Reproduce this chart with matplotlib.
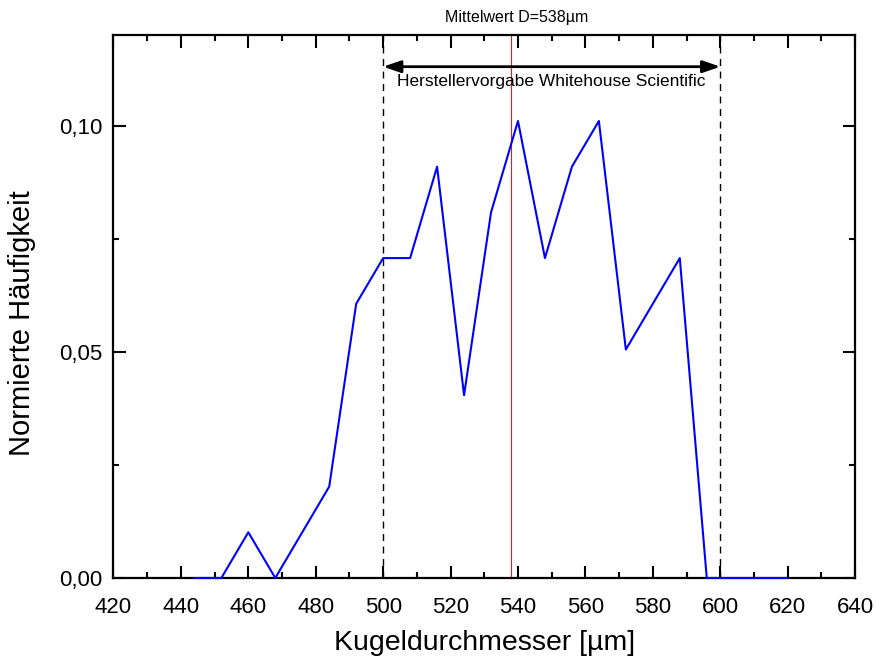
import matplotlib
matplotlib.use("Agg")
import matplotlib.pyplot as plt
from matplotlib.ticker import MultipleLocator, FuncFormatter

plt.rcParams['font.family'] = ['Liberation Sans', 'DejaVu Sans']

diameter = [444, 452, 460, 468, 484, 492, 500, 508, 516, 524, 532, 540, 548, 556, 564, 572, 588, 596, 604, 612, 620]
freq = [0.0, 0.0, 0.0101, 0.0, 0.0202, 0.0606, 0.0707, 0.0707, 0.0909, 0.0404, 0.0808, 0.101,
        0.0707, 0.0909, 0.101, 0.0505, 0.0707, 0.0, 0.0, 0.0, 0.0]
mean_d = 538
spec_lo, spec_hi = 500, 600

fig = plt.figure(figsize=(8.77, 6.62), dpi=100)
ax = fig.add_axes([0.1294, 0.1269, 0.975 - 0.1294, 0.9471 - 0.1269])

ax.plot(diameter, freq, color='#0000ff', lw=1.5, zorder=5, clip_on=False)
ax.axvline(spec_lo, color='black', ls=(0, (5, 4)), lw=1.0)
ax.axvline(spec_hi, color='black', ls=(0, (5, 4)), lw=1.0)
ax.axvline(mean_d, color='#dd2020', lw=0.8)

ax.annotate('', xy=(spec_lo, 0.113), xytext=(spec_hi, 0.113),
            arrowprops=dict(arrowstyle='<|-|>,head_length=0.75,head_width=0.26', color='black', lw=2,
                            mutation_scale=14, shrinkA=0, shrinkB=0))
ax.text((spec_lo + spec_hi) / 2, 0.1097, 'Herstellervorgabe Whitehouse Scientific',
        ha='center', va='center', fontsize=12.5)
ax.text(mean_d + 1.5, 1.032, 'Mittelwert D=538µm', transform=ax.get_xaxis_transform(),
        ha='center', va='center', fontsize=11.5)

ax.set_xlim(420, 640)
ax.set_ylim(0, 0.12)
ax.xaxis.set_major_locator(MultipleLocator(20))
ax.xaxis.set_minor_locator(MultipleLocator(10))
ax.yaxis.set_major_locator(MultipleLocator(0.05))
ax.yaxis.set_minor_locator(MultipleLocator(0.025))
ax.yaxis.set_major_formatter(FuncFormatter(lambda v, p: f"{v:.2f}".replace('.', ',')))

ax.tick_params(which='both', direction='in', top=True, right=True, width=1.5)
ax.tick_params(which='major', length=9, labelsize=16)
ax.tick_params(which='minor', length=4.5)
ax.tick_params(axis='x', which='major', pad=14)
ax.tick_params(axis='y', which='major', pad=8)
for s in ax.spines.values():
    s.set_linewidth(1.6)

ax.set_xlabel('Kugeldurchmesser [µm]', fontsize=20.5, labelpad=8)
ax.set_ylabel('Normierte Häufigkeit', fontsize=21)
ax.yaxis.set_label_coords(-0.105, 0.47)

fig.savefig('out.png', dpi=100)
